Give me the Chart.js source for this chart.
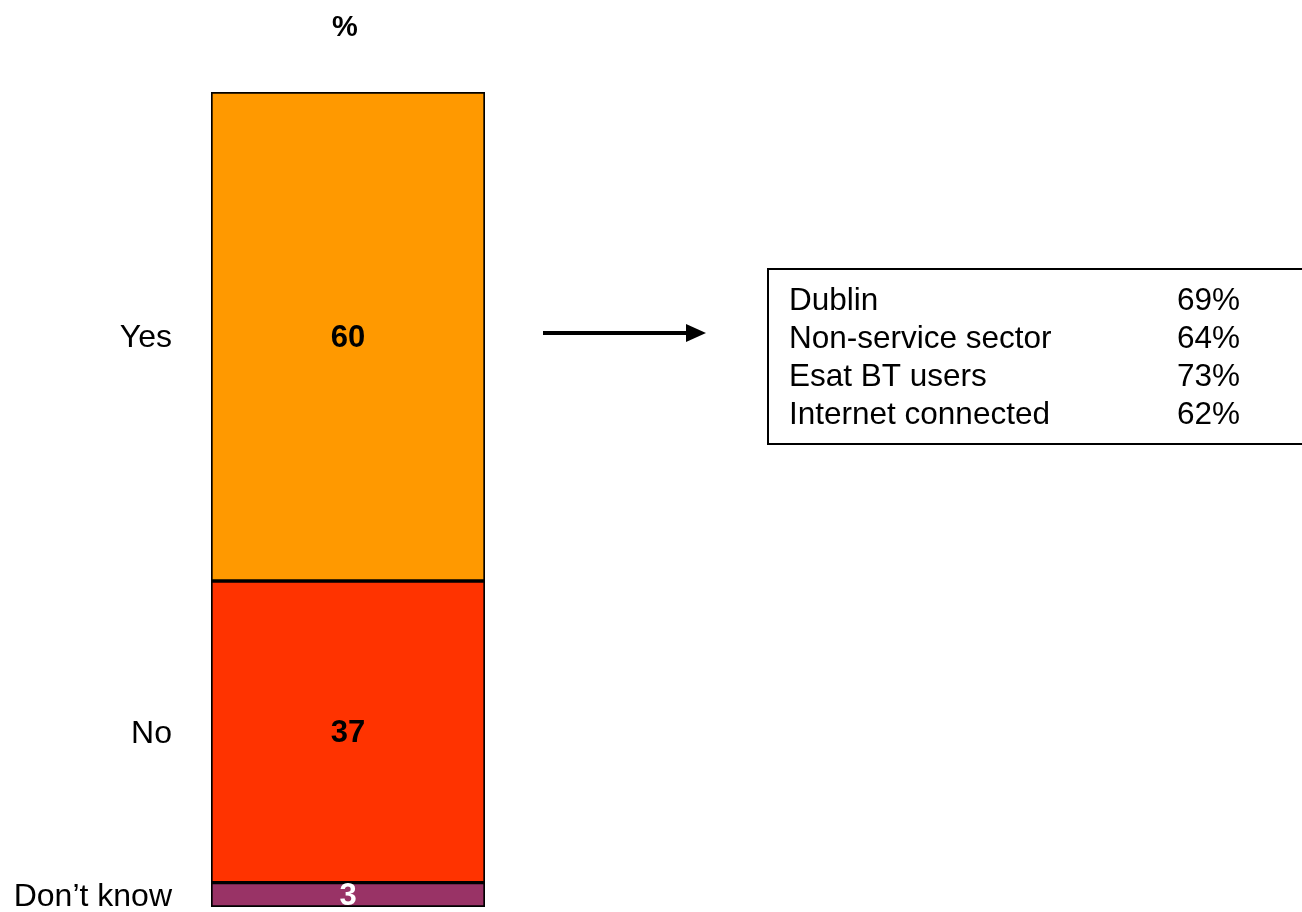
<!DOCTYPE html>
<html>
<head>
<meta charset="utf-8">
<script src="https://cdn.jsdelivr.net/npm/chart.js@4/dist/chart.umd.min.js"></script>
<style>
  html, body { margin: 0; padding: 0; background: #fff; }
  #answerChart { display: block; }
</style>
</head>
<body>
<canvas id="answerChart" width="1302" height="912"></canvas>
<script>
// answers, top to bottom of the bar
const categories = ['Yes', 'No', 'Don\u2019t know'];
const shares = [60, 37, 3];
const barColours = ['#FF9900', '#FF3300', '#993366'];
const valueColours = ['#000000', '#000000', '#FFFFFF'];

// sub-groups quoted in the call-out box
const groupNames = ['Dublin', 'Non-service sector', 'Esat BT users', 'Internet connected'];
const groupShares = [69, 64, 73, 62];

const FONT = '"Liberation Sans", Arial, sans-serif';

const labelsPlugin = {
    id: 'segmentLabels',
    afterDatasetsDraw(chart) {
        const ctx = chart.ctx;
        ctx.save();
        let barX = 0;
        chart.data.datasets.forEach(function (ds, i) {
            const bar = chart.getDatasetMeta(i).data[0];
            const top = Math.min(bar.y, bar.base);
            const bottom = Math.max(bar.y, bar.base);
            const mid = (top + bottom) / 2;
            barX = bar.x;

            // value inside segment
            ctx.font = 'bold 31px ' + FONT;
            ctx.fillStyle = valueColours[i];
            ctx.textAlign = 'center';
            ctx.textBaseline = 'middle';
            ctx.fillText(String(ds.data[0]), bar.x, mid + 2);

            // category on the left
            ctx.font = '32px ' + FONT;
            ctx.fillStyle = '#000';
            ctx.textAlign = 'right';
            ctx.fillText(ds.label, bar.x - bar.width / 2 - 39, mid + 2);
        });

        // "%" heading
        ctx.font = 'bold 29px ' + FONT;
        ctx.fillStyle = '#000';
        ctx.textAlign = 'center';
        ctx.textBaseline = 'middle';
        ctx.fillText('%', barX - 3, 28);
        ctx.restore();
    }
};

const calloutPlugin = {
    id: 'callout',
    afterDraw(chart) {
        const ctx = chart.ctx;
        ctx.save();

        // arrow pointing at the box
        ctx.strokeStyle = '#000';
        ctx.fillStyle = '#000';
        ctx.lineWidth = 4;
        ctx.beginPath();
        ctx.moveTo(543, 333);
        ctx.lineTo(690, 333);
        ctx.stroke();
        ctx.beginPath();
        ctx.moveTo(706, 333);
        ctx.lineTo(686, 324);
        ctx.lineTo(686, 342);
        ctx.closePath();
        ctx.fill();

        // box
        ctx.lineWidth = 2;
        ctx.strokeRect(768, 269, 560, 175);

        ctx.font = '31.5px ' + FONT;
        ctx.textBaseline = 'middle';
        ctx.textAlign = 'left';
        groupNames.forEach(function (name, i) {
            const y = 301 + i * 38.2;
            ctx.fillText(name, 789, y);
            ctx.fillText(groupShares[i] + '%', 1177, y);
        });
        ctx.restore();
    }
};

const ctx = document.getElementById('answerChart').getContext('2d');

new Chart(ctx, {
    type: 'bar',
    data: {
        labels: [''],
        datasets: categories.map(function (name, i) {
            return {
                label: name,
                data: [shares[i]],
                backgroundColor: barColours[i],
                borderColor: '#000',
                borderWidth: 2,
                borderSkipped: false,
                barPercentage: 1,
                categoryPercentage: 1
            };
        })
    },
    options: {
        responsive: false,
        animation: false,
        layout: {
            padding: { top: 92, bottom: 5, left: 211, right: 817 }
        },
        plugins: {
            legend: { display: false },
            tooltip: { enabled: false }
        },
        scales: {
            x: { stacked: true, display: false },
            y: { stacked: true, display: false, reverse: true, min: 0, max: 100 }
        }
    },
    plugins: [labelsPlugin, calloutPlugin]
});
</script>
</body>
</html>
